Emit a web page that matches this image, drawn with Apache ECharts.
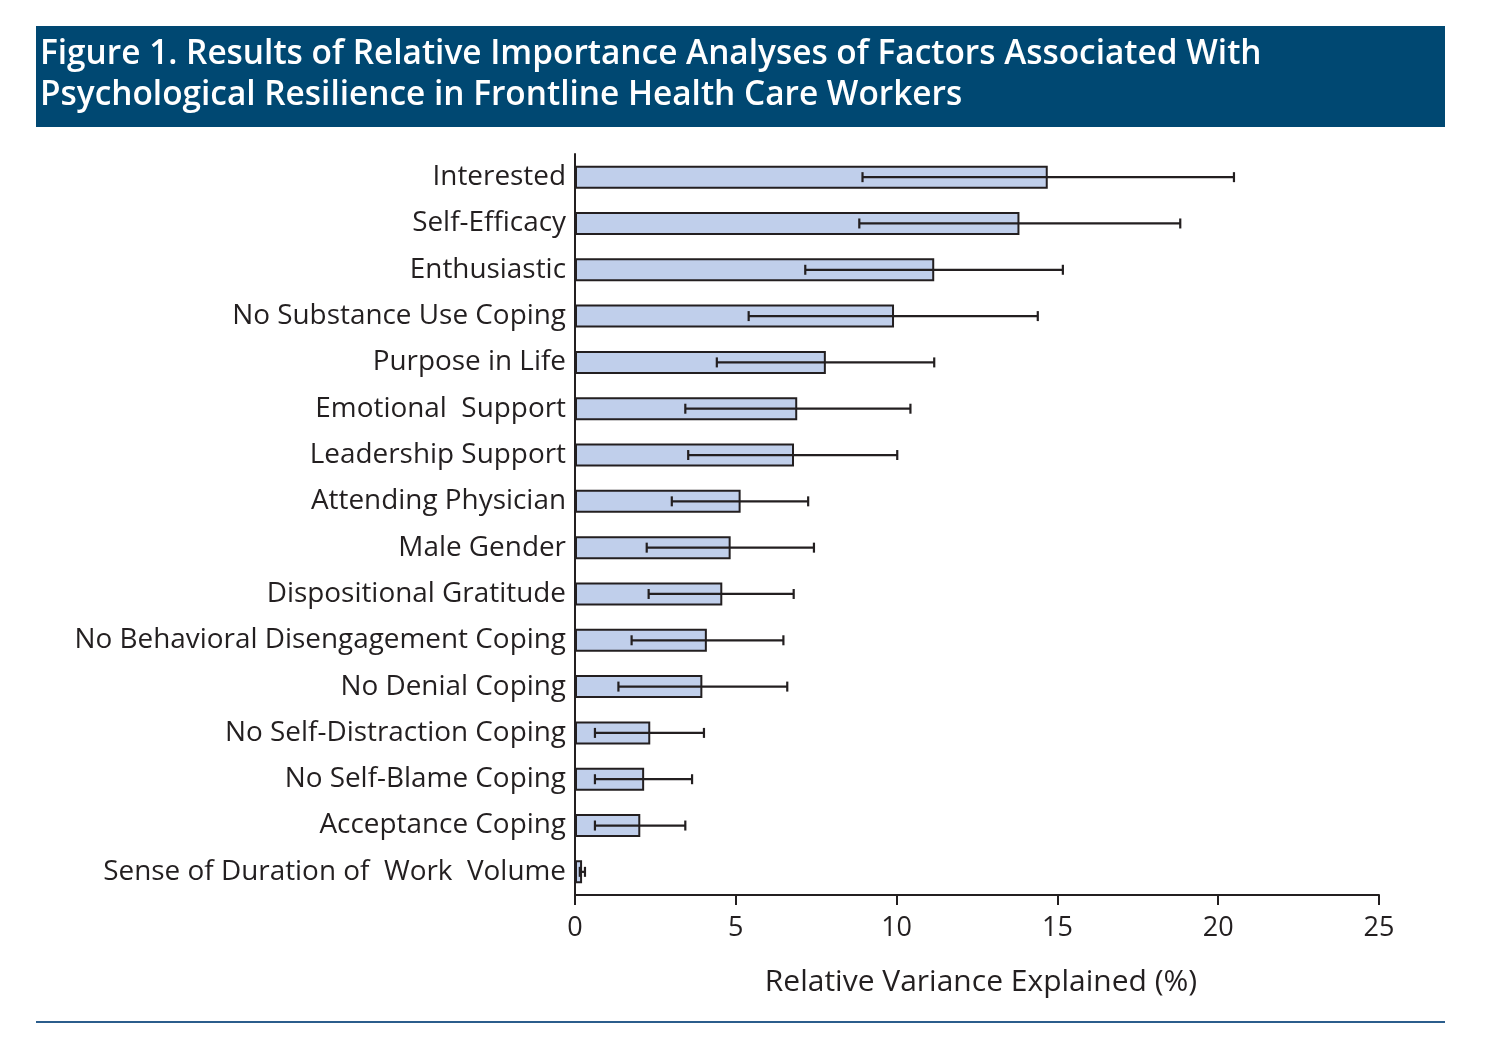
<!DOCTYPE html>
<html>
<head>
<meta charset="utf-8">
<script src="https://cdn.jsdelivr.net/npm/echarts@6/dist/echarts.min.js"></script>
<style>html,body{margin:0;padding:0;background:#fff;}#c{width:1489px;height:1052px;}</style>
</head>
<body>
<div id="c"></div>
<script>
const categories = [
  "Interested","Self-Efficacy","Enthusiastic","No Substance Use Coping","Purpose in Life",
  "Emotional  Support","Leadership Support","Attending Physician","Male Gender",
  "Dispositional Gratitude","No Behavioral Disengagement Coping","No Denial Coping",
  "No Self-Distraction Coping","No Self-Blame Coping","Acceptance Coping",
  "Sense of Duration of  Work  Volume"
];
const values = [14.70,13.82,11.17,9.92,7.80,6.91,6.81,5.15,4.84,4.58,4.10,3.96,2.34,2.15,2.03,0.22];
const ciLow  = [8.94,8.84,7.16,5.40,4.41,3.43,3.52,3.01,2.23,2.29,1.76,1.35,0.62,0.62,0.62,0.15];
const ciHigh = [20.49,18.82,15.17,14.39,11.17,10.43,10.02,7.25,7.43,6.80,6.48,6.60,4.01,3.64,3.43,0.31];
const xTicks = [0,5,10,15,20,25];

const FONT = "'Open Sans', 'Noto Sans', sans-serif";
const ink = '#231f20';

const chart = echarts.init(document.getElementById('c'), null, {renderer:'canvas'});
const errData = categories.map((c,i)=>[i, ciLow[i], ciHigh[i]]);

chart.setOption({
  animation:false,
  backgroundColor:'#fff',
  graphic:[
    {type:'rect', left:36, top:26, shape:{width:1409, height:101}, style:{fill:'#004872'}, z:0},
    {type:'rect', left:36, top:1021, shape:{width:1409, height:2}, style:{fill:'#2b5d8c'}, z:0}
  ],
  title:{
    text:'Figure 1. Results of Relative Importance Analyses of Factors Associated With\nPsychological Resilience in Frontline Health Care Workers',
    left:40, top:34, padding:0,
    textStyle:{color:'#fff', fontFamily:FONT, fontWeight:600, fontSize:33.4, lineHeight:41}
  },
  grid:{left:575, right:110, top:154, bottom:157, containLabel:false},
  xAxis:{
    type:'value', min:0, max:25, interval:5,
    splitLine:{show:false},
    axisLine:{show:true, lineStyle:{color:ink, width:2}},
    axisTick:{show:true, length:10, lineStyle:{color:ink, width:2}},
    axisLabel:{color:ink, fontFamily:FONT, fontSize:27, margin:20,
      formatter:v=> xTicks.includes(v) ? String(v) : ''},
    name:'Relative Variance Explained (%)', nameLocation:'middle', nameGap:72,
    nameTextStyle:{color:ink, fontFamily:FONT, fontSize:30, padding:[0,0,0,8]}
  },
  yAxis:{
    type:'category', data:categories, inverse:true,
    axisLine:{show:true, lineStyle:{color:ink, width:2}},
    axisTick:{show:false},
    axisLabel:{color:ink, fontFamily:FONT, fontSize:27.9, margin:9}
  },
  series:[
    {type:'bar', data:values, barWidth:23,
      itemStyle:{color:'#c0cfeb', borderColor:ink, borderWidth:2}},
    {type:'custom', data:errData, encode:{x:[1,2], y:0}, z:5,
      renderItem:function(params, api){
        const yi = api.value(0);
        const lo = api.coord([api.value(1), yi]);
        const hi = api.coord([api.value(2), yi]);
        const h = 5;
        const st = {stroke:ink, lineWidth:2.2};
        return {type:'group', children:[
          {type:'line', shape:{x1:lo[0], y1:lo[1], x2:hi[0], y2:hi[1]}, style:st},
          {type:'line', shape:{x1:lo[0], y1:lo[1]-h, x2:lo[0], y2:lo[1]+h}, style:st},
          {type:'line', shape:{x1:hi[0], y1:hi[1]-h, x2:hi[0], y2:hi[1]+h}, style:st}
        ]};
      }
    }
  ]
});
</script>
</body>
</html>
